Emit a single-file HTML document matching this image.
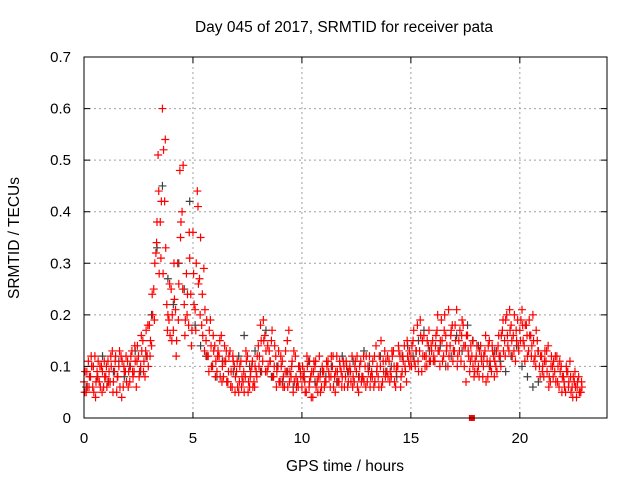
<!DOCTYPE html>
<html><head><meta charset="utf-8"><style>
body{margin:0;background:#fff;}
svg{display:block;font-family:"Liberation Sans",sans-serif;}
</style></head><body>
<svg id="c" width="640" height="480">
<text x="344" y="32" font-size="15.5" text-anchor="middle">Day 045 of 2017, SRMTID for receiver pata</text>
<text x="345" y="471" font-size="15.5" text-anchor="middle">GPS time / hours</text>
<text transform="translate(19,238) rotate(-90)" font-size="15.5" text-anchor="middle">SRMTID / TECUs</text>
<g id="grid"></g><g id="pts"></g><g id="axes"></g>
</svg>
<script>
const xTicks=[0,5,10,15,20];
const yTicks=[0,0.1,0.2,0.3,0.4,0.5,0.6,0.7];
const yTickLabels=["0","0.1","0.2","0.3","0.4","0.5","0.6","0.7"];
const redStep=0.1;
const redValues=[.07,.05,.11,.08,.06,.12,.09,.07,.10,.06,
.08,.11,.07,.13,.09,.05,.10,.12,.06,.09,
.11,.07,.13,.09,.06,.12,.10,.15,.08,.12,
.18,.14,.25,.32,.51,.38,.60,.42,.22,.19,
.25,.17,.21,.30,.48,.40,.22,.28,.18,.24,
.36,.21,.44,.27,.18,.29,.15,.12,.19,.10,
.14,.09,.12,.16,.08,.11,.07,.13,.06,.10,
.09,.05,.11,.07,.08,.12,.06,.10,.07,.09,
.14,.18,.11,.16,.09,.13,.15,.08,.12,.10,
.07,.11,.06,.09,.17,.08,.05,.12,.07,.10,
.06,.09,.05,.11,.08,.04,.10,.07,.12,.06,
.09,.07,.11,.06,.10,.08,.12,.07,.09,.11,
.08,.06,.10,.12,.07,.09,.05,.11,.08,.10,
.07,.12,.09,.06,.14,.08,.10,.07,.13,.09,
.11,.08,.13,.06,.10,.12,.09,.14,.07,.11,
.12,.15,.10,.18,.13,.09,.16,.12,.14,.11,
.15,.11,.17,.13,.19,.12,.16,.10,.14,.18,
.13,.21,.15,.11,.18,.14,.16,.09,.12,.08,
.12,.10,.14,.08,.13,.11,.15,.09,.12,.10,
.14,.12,.17,.15,.20,.13,.18,.16,.11,.19,
.17,.21,.14,.18,.13,.16,.20,.12,.15,.10,
.12,.08,.11,.14,.07,.10,.09,.12,.06,.10,
.08,.05,.09,.11,.06,.07,.04,.08,.05];
const redValues2=[.09,.06,.08,.10,.05,.07,.11,.06,.09,.08,
.06,.09,.10,.07,.12,.08,.06,.11,.09,.07,
.09,.12,.08,.11,.14,.09,.13,.11,.17,.10,
.15,.20,.30,.38,.28,.42,.52,.33,.20,.16,
.20,.23,.15,.26,.38,.49,.19,.24,.31,.17,
.22,.30,.26,.35,.16,.21,.12,.17,.10,.13,
.11,.13,.08,.10,.14,.07,.12,.09,.11,.08,
.06,.10,.08,.05,.11,.07,.09,.06,.10,.12,
.12,.09,.15,.13,.10,.11,.08,.14,.09,.07,
.10,.08,.13,.06,.09,.11,.07,.06,.10,.08,
.08,.05,.10,.07,.09,.11,.06,.08,.05,.09,
.07,.10,.08,.12,.06,.09,.07,.10,.08,.06,
.10,.09,.07,.08,.11,.06,.10,.08,.07,.12,
.09,.08,.11,.07,.10,.12,.06,.09,.11,.08,
.09,.12,.07,.10,.13,.08,.11,.09,.12,.10,
.14,.11,.13,.09,.16,.12,.10,.15,.11,.13,
.12,.16,.13,.15,.11,.20,.14,.12,.17,.13,
.15,.12,.17,.19,.10,.16,.12,.14,.10,.11,
.09,.13,.11,.12,.07,.14,.10,.13,.11,.09,
.12,.16,.13,.19,.14,.17,.12,.20,.15,.13,
.19,.15,.18,.12,.16,.14,.11,.17,.13,.12,
.10,.13,.09,.08,.12,.11,.07,.10,.09,.08,
.06,.09,.07,.05,.08,.06,.07,.05,.06];
const redValues3=[.05,.09,.06,.12,.10,.04,.08,.10,.05,.11,
.10,.07,.12,.05,.11,.08,.13,.04,.10,.12,
.06,.10,.09,.14,.11,.08,.16,.09,.13,.18,
.12,.24,.19,.34,.44,.31,.28,.54,.17,.26,
.15,.30,.12,.19,.35,.25,.16,.20,.36,.14,
.28,.17,.41,.20,.24,.13,.19,.09,.14,.16,
.08,.12,.15,.07,.11,.13,.09,.06,.12,.05,
.11,.07,.06,.09,.13,.05,.08,.11,.06,.08,
.10,.15,.19,.09,.14,.11,.17,.10,.06,.13,
.12,.06,.09,.15,.07,.10,.13,.08,.06,.09,
.10,.07,.12,.06,.04,.09,.11,.05,.08,.10,
.06,.11,.09,.08,.12,.05,.09,.11,.06,.10,
.11,.07,.09,.06,.10,.12,.08,.07,.12,.06,
.10,.06,.08,.12,.09,.06,.15,.11,.08,.12,
.07,.13,.10,.09,.14,.06,.12,.10,.15,.13,
.10,.17,.13,.11,.19,.15,.12,.10,.17,.14,
.11,.14,.20,.10,.15,.17,.13,.21,.16,.11,
.18,.10,.13,.16,.14,.07,.13,.11,.15,.09,
.14,.08,.12,.10,.16,.08,.11,.14,.08,.13,
.16,.10,.19,.12,.16,.21,.15,.13,.17,.14,
.15,.18,.11,.16,.19,.12,.15,.10,.13,.08,
.09,.11,.13,.06,.10,.08,.12,.07,.11,.05,
.07,.10,.06,.08,.04,.09,.06,.05,.07];
const grayStep=0.25;
const grayValues=[.06,.10,.08,.12,.07,.09,.11,.08,.10,.13,.09,.12,
.20,.33,.45,.27,.22,.30,.25,.42,.18,.14,.12,.10,
.08,.11,.07,.09,.12,.16,.10,.13,.09,.17,.08,.10,
.07,.09,.06,.10,.08,.11,.07,.09,.08,.10,.07,.12,
.09,.11,.08,.13,.10,.07,.12,.09,.10,.08,.12,.14,
.12,.15,.17,.13,.11,.14,.10,.12,.16,.13,.18,.15,
.14,.12,.10,.13,.11,.09,.12,.14,.10,.08,.06,.07];
const markerX=[17.8];
const markerY=[0];
const L=84,R=607,T=57,B=418,xMax=24,yMax=0.7;
const sx=v=>L+(v/xMax)*(R-L);
const sy=v=>B-(v/yMax)*(B-T);
const NS="http://www.w3.org/2000/svg";
function mk(tag,attrs,parent){const e=document.createElementNS(NS,tag);for(const k in attrs)e.setAttribute(k,attrs[k]);parent.appendChild(e);return e;}
const grid=document.getElementById('grid'),pts=document.getElementById('pts'),axes=document.getElementById('axes');
yTicks.forEach((t,i)=>{
 const y=sy(t);
 if(i>0&&i<yTicks.length-1){const g=mk('line',{x1:L,x2:R,y1:y,y2:y,stroke:'#a0a0a0','stroke-dasharray':'2,3'},grid);
 
 }
 const tk=mk('path',{d:`M${L} ${y}h6M${R} ${y}h-6`,stroke:'#000'},axes);
 
 
 const tx=mk('text',{x:L-13,y:y+5,'font-size':15,'text-anchor':'end'},axes);tx.textContent=yTickLabels[i];
 
 
});
xTicks.forEach(t=>{
 const x=sx(t);
 if(t>0){const g=mk('line',{x1:x,x2:x,y1:T,y2:B,stroke:'#a0a0a0','stroke-dasharray':'2,3'},grid);
 
 }
 const tk=mk('path',{d:`M${x} ${B}v-6M${x} ${T}v6`,stroke:'#000'},axes);
 
 
 const tx=mk('text',{x:x,y:B+25,'font-size':15,'text-anchor':'middle'},axes);tx.textContent=String(t);
 
 
});
const bd=mk('rect',{x:L,y:T,width:R-L,height:B-T,fill:'none',stroke:'#000'},axes);


function plus(x,y,c,name){const p=mk('path',{d:`M${x-4} ${y}h8M${x} ${y-4}v8`,stroke:c,'stroke-width':1.2},pts);
 
 }
grayValues.forEach((v,i)=>plus(sx(i*grayStep+0.1),sy(v),'#404040','gray-point'));
redValues.forEach((v,i)=>plus(sx(i*redStep),sy(v),'#ff0000','red-point'));
redValues2.forEach((v,i)=>plus(sx(i*redStep+0.05),sy(v),'#ff0000','red-point'));
redValues3.forEach((v,i)=>plus(sx(i*redStep+0.03),sy(v),'#ff0000','red-point'));
markerX.forEach((v,i)=>{const r=mk('rect',{x:sx(v)-3,y:sy(markerY[i])-3,width:6,height:6,fill:'#ff0000'},pts);
 
 });
</script>
</body></html>
